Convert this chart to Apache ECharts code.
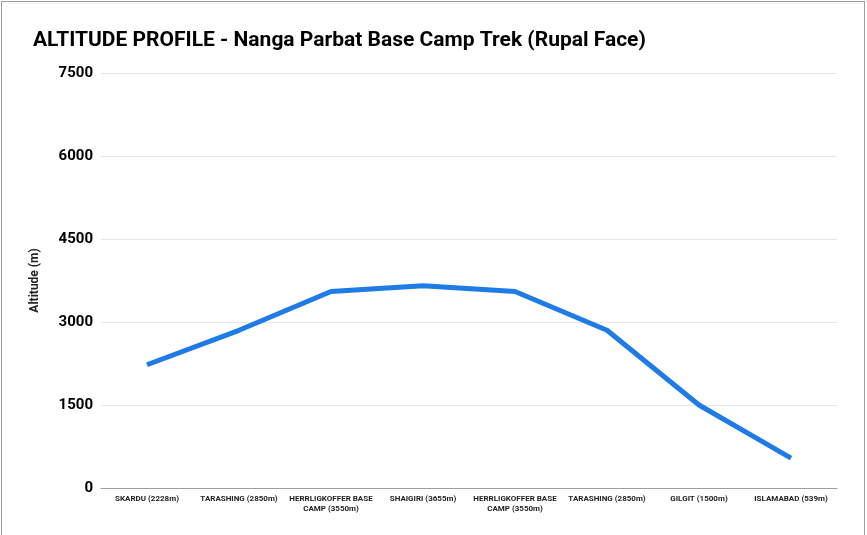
<!DOCTYPE html>
<html>
<head>
<meta charset="utf-8">
<script src="https://cdn.jsdelivr.net/npm/echarts@6/dist/echarts.min.js"></script>
<style>
    html, body { margin: 0; padding: 0; background: #fff; }
    #frame { position: absolute; left: 1px; top: 1px; width: 862px; height: 540px; border: 1px solid #9e9e9e; border-bottom: none; }
    #chart { position: absolute; left: 0; top: 0; width: 867px; height: 535px; }
</style>
</head>
<body>
<div id="frame"></div>
<div id="chart"></div>
<script>
const stops = [
    'SKARDU (2228m)',
    'TARASHING (2850m)',
    'HERRLIGKOFFER BASE\nCAMP (3550m)',
    'SHAIGIRI (3655m)',
    'HERRLIGKOFFER BASE\nCAMP (3550m)',
    'TARASHING (2850m)',
    'GILGIT (1500m)',
    'ISLAMABAD (539m)'
];
const altitude = [2228, 2850, 3550, 3655, 3550, 2850, 1500, 539];
const yTicks = { min: 0, max: 7500, step: 1500 };

const myChart = echarts.init(document.getElementById('chart'));
myChart.setOption({
    animation: false,
    title: {
        text: 'ALTITUDE PROFILE - Nanga Parbat Base Camp Trek (Rupal Face)',
        left: 28, top: 25,
        textStyle: { fontFamily: 'Roboto', fontSize: 21, fontWeight: 'bold', color: '#000' }
    },
    grid: { left: 101, right: 30, top: 73, bottom: 47 },
    xAxis: {
        type: 'category',
        data: stops,
        axisLine: { lineStyle: { color: '#9e9e9e', width: 1 } },
        axisTick: { show: false },
        axisLabel: {
            interval: 0, margin: 6, color: '#222',
            fontFamily: 'Roboto', fontSize: 8, fontWeight: 'bold', lineHeight: 10
        }
    },
    yAxis: {
        type: 'value',
        min: yTicks.min, max: yTicks.max, interval: yTicks.step,
        name: 'Altitude (m)',
        nameLocation: 'middle',
        nameGap: 60,
        nameTextStyle: { fontFamily: 'Roboto', fontSize: 12, fontWeight: 'bold', color: '#222' },
        axisLine: { show: false },
        axisTick: { show: false },
        splitLine: { lineStyle: { color: '#e6e6e6', width: 1 } },
        axisLabel: {
            margin: 8, color: '#000', fontFamily: 'Roboto', fontSize: 15, fontWeight: 'bold',
            formatter: (v) => String(v)
        }
    },
    series: [{
        type: 'line',
        data: altitude,
        symbol: 'none',
        lineStyle: { color: '#1f7be6', width: 5 }
    }]
});
</script>
</body>
</html>
